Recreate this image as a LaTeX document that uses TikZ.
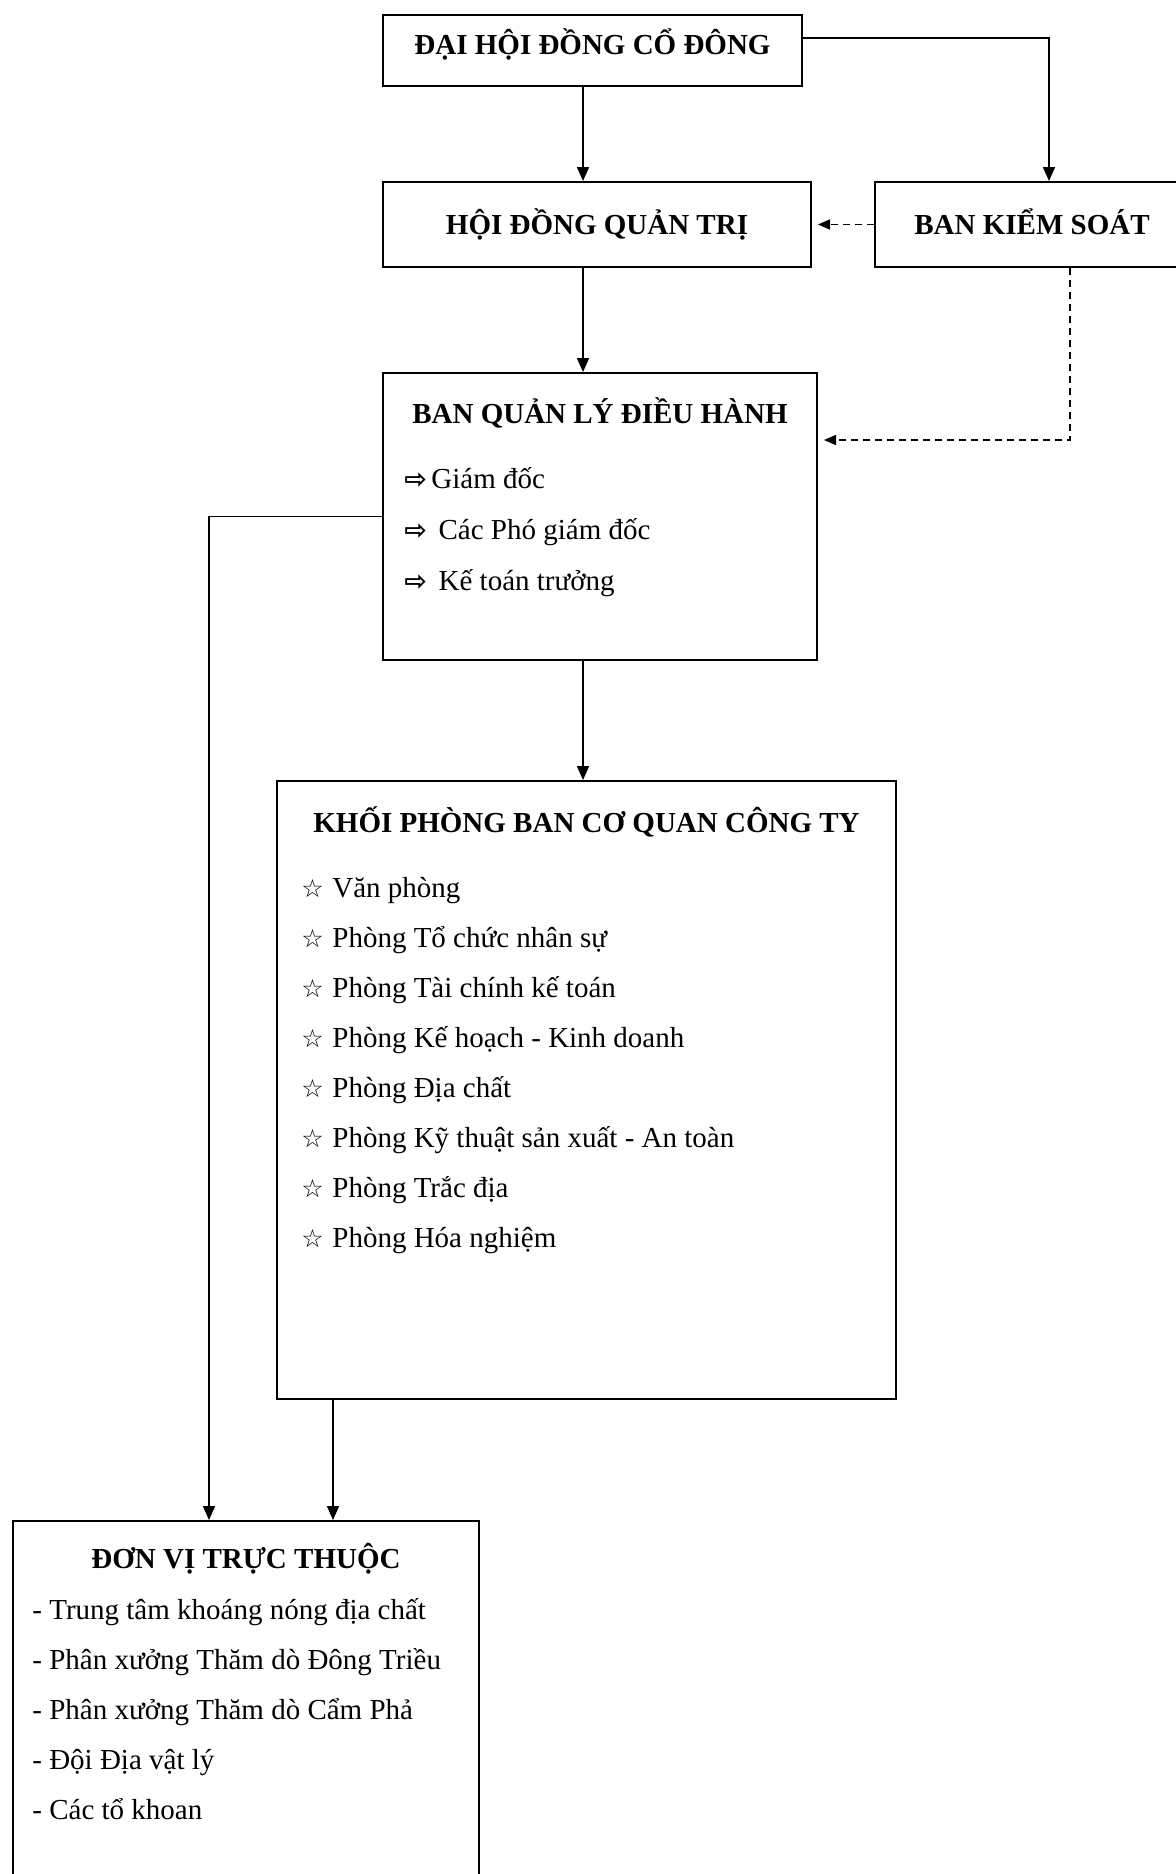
\documentclass[tikz,border=0pt]{standalone}
\usepackage{fontspec}
\setmainfont{Liberation Serif}
\newfontfamily\symfont{DejaVu Sans}
\usetikzlibrary{arrows.meta, positioning}

\newcommand{\arrowmark}{\makebox[13.5pt][l]{\symfont\bfseries\fontsize{13.5}{14}\selectfont ⇨}}
\newcommand{\starmark}{\makebox[15.5pt][l]{\symfont\bfseries\fontsize{12.5}{13}\selectfont ☆}}

\begin{document}
\begin{tikzpicture}[
      font=\fontsize{14.5}{17}\selectfont,
      line/.style     = {line width=0.8pt, -{Triangle[length=7pt,width=6pt]}},
      dashline/.style = {line width=0.8pt, dash pattern=on 3.5pt off 2.5pt,
        -{Triangle[length=6pt,width=5pt]}, shorten >=3pt},
      box/.style      = {rectangle, draw, line width=1pt, inner sep=0pt},
      headbox/.style  = {box, font=\fontsize{14.5}{17}\selectfont\bfseries,
        text height=10pt, text depth=0pt},
      title/.style    = {font=\fontsize{14.5}{17}\selectfont\bfseries,
        anchor=base, inner sep=0pt},
      item/.style     = {anchor=base west, inner sep=0pt}
    ]
    \useasboundingbox (0,0) rectangle (588pt,-937pt);

    % ---------------- top level ----------------
    \node[headbox, anchor=north west, minimum width=209.5pt,
      minimum height=35.5pt, text depth=5.7pt] (dhcd) at (191pt,-7pt)
    {ĐẠI HỘI ĐỒNG CỔ ĐÔNG};
    \node[headbox, below=47pt of dhcd.south west, anchor=north west,
    minimum width=214pt, minimum height=42.5pt] (hdqt) {HỘI ĐỒNG QUẢN TRỊ};
    \node[headbox, right=31pt of hdqt.north east, anchor=north west,
    minimum width=157pt, minimum height=42.5pt] (bks) {BAN KIỂM SOÁT};

    % ---------------- executive board ----------------
    \node[box, below=52pt of hdqt.south west, anchor=north west,
    minimum width=217pt, minimum height=143.5pt] (bqldh) {};
    \node[title] (bqldhTitle) at ([yshift=-25.7pt]bqldh.north)
    {BAN QUẢN LÝ ĐIỀU HÀNH};
    \node[item] (gd)  at ([shift={(11pt,-58pt)}]bqldh.north west)
    {\arrowmark Giám đốc};
    \node[item] (pgd) at ([shift={(11pt,-83.5pt)}]bqldh.north west)
    {\arrowmark{} Các Phó giám đốc};
    \node[item] (ktt) at ([shift={(11pt,-109pt)}]bqldh.north west)
    {\arrowmark{} Kế toán trưởng};

    % ---------------- company departments ----------------
    \node[box, below=59.5pt of bqldh.south west, xshift=-53pt,
    anchor=north west, minimum width=309.5pt, minimum height=309pt] (khoi) {};
    \node[title] (khoiTitle) at ([yshift=-26pt]khoi.north)
    {KHỐI PHÒNG BAN CƠ QUAN CÔNG TY};
    \foreach \txt [count=\i from 0] in {Văn phòng,%
      Phòng Tổ chức nhân sự,%
      Phòng Tài chính kế toán,%
      Phòng Kế hoạch - Kinh doanh,%
      Phòng Địa chất,%
      Phòng Kỹ thuật sản xuất - An toàn,%
      Phòng Trắc địa,%
      Phòng Hóa nghiệm}
    \node[item] (phong\i) at ([shift={(12.5pt,-58.5pt-25pt*\i)}]khoi.north west)
    {\starmark\txt};

    % ---------------- subsidiary units ----------------
    \node[box, below=60pt of khoi.south west, xshift=-132pt,
    anchor=north west, minimum width=233pt, minimum height=200pt] (donvi) {};
    \node[title] (donviTitle) at ([yshift=-24.4pt]donvi.north)
    {ĐƠN VỊ TRỰC THUỘC};
    \foreach \txt [count=\i from 0] in {- Trung tâm khoáng nóng địa chất,%
      - Phân xưởng Thăm dò Đông Triều,%
      - Phân xưởng Thăm dò Cẩm Phả,%
      - Đội Địa vật lý,%
      - Các tổ khoan}
    \node[item] (dv\i) at ([shift={(10pt,-49.5pt-25pt*\i)}]donvi.north west)
    {\txt};

    % ---------------- arrows ----------------
    \coordinate (spine) at (291.5pt,0);
    \draw[line] (dhcd.south -| spine) -- (hdqt.north -| spine);
    \draw[line] (hdqt.south -| spine) -- (bqldh.north -| spine);
    \draw[line] (bqldh.south -| spine) -- (khoi.north -| spine);

    \draw[line] ([yshift=6.25pt]dhcd.east) -| ([xshift=8.5pt]bks.north);

    % supervisory board (dashed)
    \draw[dashline] (bks.west) -- (hdqt.east);
    \draw[dashline] ([xshift=19pt]bks.south) |- ([yshift=-34pt]bqldh.north east);

    % down to subsidiary units
    \draw[line] (bqldh.west) -| ([xshift=98.5pt]donvi.north west);
    \draw[line] ([xshift=28.5pt]khoi.south west) -- ([xshift=160.5pt]donvi.north west);

  \end{tikzpicture}
\end{document}
